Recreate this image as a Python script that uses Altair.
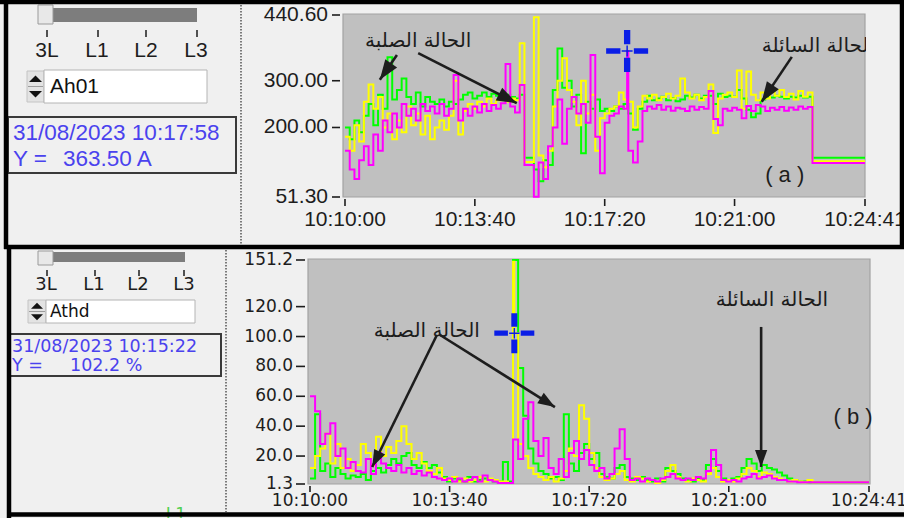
import math

import altair as alt
import pandas as pd

# ---------------------------------------------------------------- styling
W, H = 904, 518
BG = "#f0f0f0"
PLOT_BG = "#c0c0c0"
PLOT_EDGE = "#a2a2a2"
INK = "#1d1d1d"
READOUT = "#4a42ee"
CURSOR_BLUE = "#0a1ee6"
SERIES_COLORS = {"L1": "#ffff00", "L2": "#00ff00", "L3": "#ff00ff"}
DRAW_ORDER = ["L2", "L1", "L3"]
ARABIC_FONT = "DejaVu Sans"

# ---------------------------------------------------------------- record
DATE = "31/08/2023"
RECORD_START = "10:10:00"
RECORD_END = "10:24:41"
SAMPLE_STEP = 8  # seconds between logged samples; the last value holds to RECORD_END
TIME_TICKS = ["10:10:00", "10:13:40", "10:17:20", "10:21:00", "10:24:41"]
SELECTOR = ["3L", "L1", "L2", "L3"]

# (a) RMS current per phase, A
AMP_TICKS = [440.60, 300.00, 200.00, 51.30]
AMP_L1 = [180, 150, 205, 170, 255, 292, 240, 265, 200, 230,
          175, 215, 190, 245, 205, 230, 185, 225, 175, 200,
          215, 195, 225, 300, 185, 235, 250, 240, 255, 245,
          262, 250, 258, 265, 255, 262, 258, 380, 126, 126,
          436, 140, 115, 150, 245, 300, 348, 280, 255, 205,
          300, 230, 270, 150, 220, 230, 240, 245, 275, 260,
          255, 200, 245, 268, 262, 270, 258, 265, 272, 262,
          268, 305, 275, 262, 270, 258, 265, 292, 188, 262,
          270, 275, 265, 322, 240, 320, 270, 258, 275, 262,
          278, 268, 280, 265, 272, 260, 278, 266, 275, 128,
          128]
AMP_L2 = [200, 175, 215, 190, 225, 250, 205, 270, 240, 350,
          260, 280, 305, 265, 250, 275, 245, 265, 255, 250,
          260, 245, 255, 250, 260, 270, 275, 262, 268, 275,
          265, 272, 268, 260, 270, 265, 262, 270, 135, 135,
          110, 85, 130, 120, 280, 369, 285, 300, 245, 270,
          145, 255, 240, 260, 235, 240, 235, 245, 240, 250,
          230, 195, 240, 255, 268, 258, 262, 266, 258, 263,
          256, 260, 268, 264, 270, 262, 268, 268, 250, 272,
          265, 268, 266, 280, 262, 238, 222, 230, 260, 266,
          264, 268, 266, 262, 266, 264, 268, 264, 266, 135,
          135]
AMP_L3 = [150, 110, 90, 130, 160, 120, 185, 150, 215, 190,
          230, 200, 250, 225, 240, 215, 250, 235, 245, 230,
          250, 225, 240, 312, 215, 240, 225, 245, 232, 250,
          235, 248, 240, 252, 336, 245, 232, 291, 120, 120,
          52, 125, 90, 160, 200, 260, 165, 240, 265, 230,
          250, 210, 355, 180, 102, 210, 225, 230, 245, 240,
          150, 125, 170, 235, 245, 240, 248, 238, 245, 236,
          242, 240, 235, 245, 238, 244, 240, 278, 218, 205,
          240, 236, 242, 238, 220, 246, 235, 248, 245, 235,
          242, 238, 244, 236, 243, 238, 245, 240, 244, 124,
          124]
AMP_CURSOR = ("L3", "10:17:58", 363.50)

# (b) current THD per phase, %
THD_TICKS = [151.2, 120.0, 100.0, 80.0, 60.0, 40.0, 20.0, 1.3]
THD_L1 = [12, 20, 25, 35, 15, 28, 12, 18, 10, 14,
          28, 22, 14, 33, 20, 26, 22, 30, 40, 28,
          18, 22, 15, 10, 8, 12, 5, 4, 6, 3,
          5, 3, 4, 6, 3, 5, 4, 3, 3, 2,
          150, 28, 20, 12, 8, 6, 4, 6, 3, 5,
          10, 25, 20, 54, 45, 22, 12, 6, 4, 5,
          8, 10, 4, 3, 6, 5, 3, 4, 2, 4,
          10, 14, 6, 4, 3, 5, 4, 3, 8, 12,
          6, 3, 4, 3, 5, 8, 12, 10, 6, 9,
          8, 6, 5, 4, 3, 4, 3, 2.5, 4, 2.5,
          2.5]
THD_L2 = [5, 48, 10, 15, 6, 12, 8, 5, 7, 6,
          8, 4, 10, 12, 9, 14, 18, 15, 20, 22,
          14, 12, 16, 12, 14, 9, 6, 3, 5, 4,
          3, 6, 3, 4, 5, 4, 3, 3, 16, 3,
          151.2, 79, 47, 25, 15, 10, 8, 5, 6, 4,
          48, 15, 10, 22, 28, 18, 22, 8, 6, 5,
          12, 14, 6, 5, 4, 6, 4, 3, 5, 3,
          12, 10, 8, 5, 4, 3, 5, 4, 14, 18,
          10, 5, 4, 5, 6, 12, 18, 15, 10, 14,
          12, 11, 9, 7, 5, 4, 3, 3, 2.5, 2.5,
          2.5]
THD_L3 = [60, 50, 28, 35, 42, 20, 25, 12, 16, 10,
          9, 18, 8, 22, 15, 12, 10, 14, 9, 12,
          8, 10, 7, 9, 6, 5, 4, 5, 3, 5,
          3, 4, 6, 3, 7, 4, 3, 2, 2, 2,
          31, 18, 45, 56, 30, 20, 32, 12, 8, 18,
          6, 22, 30, 18, 24, 14, 10, 12, 5, 8,
          25, 38, 18, 4, 5, 3, 5, 4, 3, 5,
          6, 8, 5, 4, 5, 4, 6, 5, 10, 24,
          14, 4, 3, 4, 3, 5, 6, 8, 5, 6,
          7, 5, 4, 4, 3, 3, 2.5, 2.5, 2.5, 2.5,
          2.5]
THD_CURSOR = ("L1", "10:15:22", 102.2)

SOLID = "الحالة الصلبة"
LIQUID = "الحالة السائلة"

# notes and arrows, anchored in (time, value) of each plot
AMP_NOTES = [(SOLID, "10:12:04", 385, "center", ARABIC_FONT, 20),
             (LIQUID, "10:21:46", 374, "left", ARABIC_FONT, 20),
             ("( a )", "10:22:25", 98, "center", "Liberation Sans", 22)]
AMP_ARROWS = [("10:11:28", 355, "10:10:59", 302),
              ("10:12:04", 359, "10:14:51", 252),
              ("10:22:37", 351, "10:21:46", 255)]
THD_NOTES = [(SOLID, "10:13:04", 103.7, "center", ARABIC_FONT, 20),
             (LIQUID, "10:22:08", 124.4, "center", ARABIC_FONT, 20),
             ("( b )", "10:24:16", 46, "center", "Liberation Sans", 22)]
THD_ARROWS = [("10:13:20", 101, "10:11:38", 12.7),
              ("10:13:25", 101, "10:16:26", 52.8),
              ("10:21:51", 106.4, "10:21:51", 12.7)]

# ---------------------------------------------------------------- glyphs
HEAD = "M0,0L0.36,1L-0.36,1Z"
CROSS = ("M-1,-0.13L-0.32,-0.13L-0.32,0.13L-1,0.13Z"
         "M0.32,-0.13L1,-0.13L1,0.13L0.32,0.13Z"
         "M-0.15,-1L0.15,-1L0.15,-0.32L-0.15,-0.32Z"
         "M-0.15,0.32L0.15,0.32L0.15,1L-0.15,1Z"
         "M-0.26,-0.035L0.26,-0.035L0.26,0.035L-0.26,0.035Z"
         "M-0.035,-0.26L0.035,-0.26L0.035,0.26L-0.035,0.26Z")
SPIN_UP = "M-1,0.5L1,0.5L0,-0.5Z"
SPIN_DOWN = "M-1,-0.5L1,-0.5L0,0.5Z"

ONE = pd.DataFrame({"_": [0]})


def secs(hms):
    h, m, s = (int(p) for p in hms.split(":"))
    h0, m0, s0 = (int(p) for p in RECORD_START.split(":"))
    return (h - h0) * 3600 + (m - m0) * 60 + (s - s0)


T_END = secs(RECORD_END)


def box(x, x2, y, y2, **kw):
    return alt.Chart(ONE).mark_rect(**kw).encode(
        x=alt.value(x), x2=alt.value(x2), y=alt.value(y), y2=alt.value(y2))


def seg(x, x2, y, y2, **kw):
    return alt.Chart(ONE).mark_rule(**kw).encode(
        x=alt.value(x), x2=alt.value(x2), y=alt.value(y), y2=alt.value(y2))


def label(txt, x, y, **kw):
    kw.setdefault("baseline", "middle")
    return alt.Chart(ONE).mark_text(text=txt, **kw).encode(x=alt.value(x), y=alt.value(y))


def glyph(path, x, y, size, color):
    return alt.Chart(ONE).mark_point(shape=path, size=size, filled=True, opacity=1,
                                     color=color).encode(x=alt.value(x), y=alt.value(y))


def plot_layers(g, series, cursor, ticks, notes, arrows):
    sx = alt.Scale(domain=[0, T_END], range=[g["x0"], g["x1"]], nice=False, zero=False)
    sy = alt.Scale(domain=[ticks[-1], ticks[0]], range=[g["ybot"], g["ytop"]],
                   nice=False, zero=False)

    def X(f):
        return alt.X(f, type="quantitative", scale=sx, axis=None)

    def Y(f):
        return alt.Y(f, type="quantitative", scale=sy, axis=None)

    def px(t, v):
        x = g["x0"] + t / T_END * (g["x1"] - g["x0"])
        y = g["ybot"] - (v - ticks[-1]) / (ticks[0] - ticks[-1]) * (g["ybot"] - g["ytop"])
        return x, y

    fl, fr, ft, fb = g["frame"]
    out = [box(fl, fr, ft, fb, fill=PLOT_BG, stroke=PLOT_EDGE, strokeWidth=1.2)]

    # logged traces, with the cursor reading inserted as a sample
    n = len(next(iter(series.values())))
    times = [i * SAMPLE_STEP for i in range(n - 1)] + [T_END]
    rows = []
    for name, vals in series.items():
        rows += [(t, name, v) for t, v in zip(times, vals)]
    cname, ctime, cval = cursor
    rows.append((secs(ctime), cname, cval))
    df = pd.DataFrame(rows, columns=["t", "series", "v"])
    for name in DRAW_ORDER:
        out.append(alt.Chart(df).transform_filter(alt.datum.series == name)
                   .mark_line(interpolate="step-after", color=SERIES_COLORS[name],
                              strokeWidth=2.0)
                   .encode(x=X("t"), y=Y("v")))

    # annotations
    for txt, when, val, align, font, size in notes:
        out.append(alt.Chart(pd.DataFrame({"t": [secs(when)], "v": [val]}))
                   .mark_text(text=txt, align=align, baseline="middle", font=font,
                              fontSize=size, color=INK)
                   .encode(x=X("t"), y=Y("v")))
    arr = []
    for t0, v0, t1, v1 in arrows:
        a, b = secs(t0), secs(t1)
        (x0, y0), (x1, y1) = px(a, v0), px(b, v1)
        ang = math.degrees(math.atan2(x1 - x0, -(y1 - y0))) % 360
        arr.append(dict(t0=a, v0=v0, t1=b, v1=v1, ang=ang))
    adf = pd.DataFrame(arr)
    out.append(alt.Chart(adf).mark_rule(color=INK, strokeWidth=2.6)
               .encode(x=X("t0"), y=Y("v0"), x2="t1", y2="v1"))
    out.append(alt.Chart(adf).mark_point(shape=HEAD, size=g["head"], filled=True,
                                         opacity=1, color=INK)
               .encode(x=X("t1"), y=Y("v1"), angle=alt.Angle("ang:Q", scale=None)))
    if g.get("mask"):
        mx0, mx1, my0, my1 = g["mask"]
        out.append(box(mx0, mx1, my0, my1, fill=BG))

    # cursor marker
    out.append(alt.Chart(pd.DataFrame({"t": [secs(ctime)], "v": [cval]}))
               .mark_point(shape=CROSS, size=g["cross"], filled=True, opacity=1,
                           color=CURSOR_BLUE)
               .encode(x=X("t"), y=Y("v")))

    # axes
    ydf = pd.DataFrame({"v": ticks, "label": [g["fmt"].format(v) for v in ticks]})
    out.append(alt.Chart(ydf).mark_rule(color=INK, strokeWidth=1.6)
               .encode(y=Y("v"), x=alt.value(g["ytick"][0]), x2=alt.value(g["ytick"][1])))
    out.append(alt.Chart(ydf).mark_text(align="right", baseline="middle", font=g["font"],
                                        fontSize=g["fsize"], color=INK)
               .encode(y=Y("v"), x=alt.value(g["ylab_x"]), text="label:N"))
    xdf = pd.DataFrame({"t": [secs(s) for s in TIME_TICKS], "label": TIME_TICKS})
    out.append(alt.Chart(xdf).mark_rule(color=INK, strokeWidth=1.6)
               .encode(x=X("t"), y=alt.value(g["xtick"][0]), y2=alt.value(g["xtick"][1])))
    out.append(alt.Chart(xdf).mark_text(align="center", baseline="middle", font=g["font"],
                                        fontSize=g["fsize"], color=INK)
               .encode(x=X("t"), y=alt.value(g["xlab_y"]), text="label:N"))
    return out


def side_layers(s, cursor, unit_fmt):
    f = s["font"]
    out = [box(*s["track"], fill="#7d7d7d"),
           box(*s["thumb"], fill="#e8e8e8", stroke="#9a9a9a", strokeWidth=1)]
    ty0, ty1 = s["tick_y"]
    for x in s["ticks_x"]:
        out.append(seg(x, x, ty0, ty1, color=INK, strokeWidth=1.5))
    for txt, x in zip(SELECTOR, s["labels_x"]):
        out.append(label(txt, x, s["label_y"], align="center", font=f,
                         fontSize=s["label_size"], color=INK))
    sx0, sx1, sy0, sy1 = s["spin"]
    out.append(box(sx0, sx1, sy0, sy1, fill="#e3e3e3", stroke="#c4c4c4", strokeWidth=1))
    mid = (sy0 + sy1) / 2
    out.append(seg(sx0 + 1, sx1 - 1, mid, mid, color="#9c9c9c", strokeWidth=1))
    cx = (sx0 + sx1) / 2
    out.append(glyph(SPIN_UP, cx, (sy0 + mid) / 2, s["spin_size"], "#111111"))
    out.append(glyph(SPIN_DOWN, cx, (mid + sy1) / 2, s["spin_size"], "#111111"))
    out.append(box(*s["field"], fill="#ffffff", stroke="#b4b4b4", strokeWidth=1))
    name, fx, fy = s["field_text"]
    out.append(label(name, fx, fy, align="left", font=f, fontSize=s["field_size"], color="#111111"))
    out.append(box(*s["info"], fillOpacity=0, stroke="#3a3a3a", strokeWidth=2))
    _, ctime, cval = cursor
    lx, ly = s["line1"]
    out.append(label(f"{DATE} {ctime}", lx, ly, align="left", font=f,
                     fontSize=s["info_size"], color=READOUT))
    yx, vx, vy = s["line2"]
    out.append(label("Y =", yx, vy, align="left", font=f, fontSize=s["info_size"], color=READOUT))
    out.append(label(unit_fmt.format(cval), vx, vy, align="left", font=f,
                     fontSize=s["info_size"], color=READOUT))
    dx = s["sep_x"]
    out.append(seg(dx, dx, s["sep_y"][0], s["sep_y"][1], color="#3c3c3c", strokeWidth=1.3,
                   strokeDash=[1.5, 1.5]))
    return out


PANEL_A = dict(x0=345, x1=865, ybot=197, ytop=15, frame=(343, 865, 14, 197),
               ytick=(332, 340), ylab_x=328, xtick=(199, 206), xlab_y=220,
               font="Liberation Sans", fsize=21, fmt="{:.2f}", head=1600, cross=1764,
               mask=(866, 899, 8, 205))
PANEL_B = dict(x0=310, x1=869, ybot=484, ytop=260, frame=(308, 870, 259, 484),
               ytick=(296, 305), ylab_x=293, xtick=(486, 492), xlab_y=501,
               font="DejaVu Sans", fsize=17, fmt="{:.1f}", head=1156, cross=1600)

SIDE_A = dict(track=(53, 197, 8, 22), thumb=(38, 53, 5, 24), ticks_x=[47, 98, 146, 197],
              tick_y=(30, 37), labels_x=[47, 97, 146, 196], label_y=51, label_size=21,
              spin=(27, 44, 71, 102), spin_size=169, field=(44, 207, 70, 103),
              field_text=("Ah01", 50, 87), field_size=21, info=(8, 236, 117, 173),
              line1=(13, 133), line2=(13, 63, 159), info_size=22.5,
              font="Liberation Sans", sep_x=241, sep_y=(5, 244))
SIDE_B = dict(track=(53, 185, 252, 262), thumb=(38, 53, 251, 265), ticks_x=[47, 95, 139, 184],
              tick_y=(270, 276), labels_x=[46, 94, 138, 184], label_y=285, label_size=18,
              spin=(28, 46, 300, 323), spin_size=144, field=(46, 195, 300, 323),
              field_text=("Athd", 50, 312), field_size=17, info=(9, 221, 334, 376),
              line1=(12, 347), line2=(12, 70, 366), info_size=17.5,
              font="DejaVu Sans", sep_x=226, sep_y=(250, 512))

layers = []
layers += side_layers(SIDE_A, AMP_CURSOR, "{:.2f} A")
layers += plot_layers(PANEL_A, {"L1": AMP_L1, "L2": AMP_L2, "L3": AMP_L3},
                      AMP_CURSOR, AMP_TICKS, AMP_NOTES, AMP_ARROWS)
layers += side_layers(SIDE_B, THD_CURSOR, "{:.1f} %")
layers += plot_layers(PANEL_B, {"L1": THD_L1, "L2": THD_L2, "L3": THD_L3},
                      THD_CURSOR, THD_TICKS, THD_NOTES, THD_ARROWS)

# phase label of the next selector row, cut by the frame
layers.append(label("L1", 176, 515, align="center", font="DejaVu Sans", fontSize=17,
                    color="#52d052"))

# window frames
FRAME = dict(color="#000000", strokeWidth=4.5)
layers += [seg(0, W, 2, 2, **FRAME), seg(4, W, 247, 247, **FRAME), seg(7, W, 514.5, 514.5, **FRAME),
           seg(6, 6, 0, 249, **FRAME), seg(902, 902, 0, 249, **FRAME), seg(9, 9, 245, 518, **FRAME)]

chart = (alt.layer(*layers)
         .resolve_scale(x="independent", y="independent")
         .properties(width=W, height=H, autosize=alt.AutoSizeParams(type="none"),
                     padding=0, background=BG)
         .configure_view(stroke=None))

chart.save("out.html", embed_options={"renderer": "svg", "actions": False})
